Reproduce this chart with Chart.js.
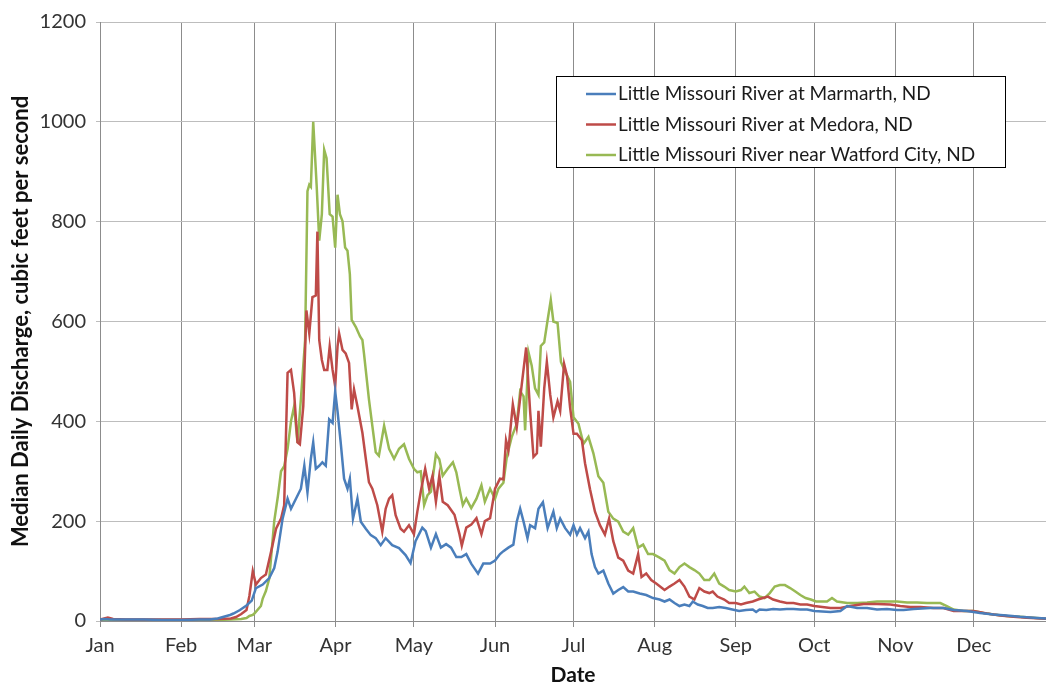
<!DOCTYPE html>
<html>
<head>
<meta charset="utf-8">
<title>Little Missouri River median daily discharge</title>
<script src="https://cdn.jsdelivr.net/npm/chart.js@4.4.1/dist/chart.umd.min.js"></script>
<style>
  html, body { margin: 0; padding: 0; background: #fff; }
  #flowChart { display: block; }
</style>
</head>
<body>
<canvas id="flowChart" width="1046" height="688"></canvas>
<script>
// month axis: tick positions are day-of-year of the 1st of each month
const monthNames = ['Jan', 'Feb', 'Mar', 'Apr', 'May', 'Jun', 'Jul', 'Aug', 'Sep', 'Oct', 'Nov', 'Dec'];
const monthStartDay = [0, 31, 59, 90, 120, 151, 181, 212, 243, 273, 304, 334];

const seriesNames = [
    'Little Missouri River at Marmarth, ND',
    'Little Missouri River at Medora, ND',
    'Little Missouri River near Watford City, ND'
];

// Marmarth (day of year, median cfs)
const marmarthDay = [0, 2, 4, 10, 17, 24, 31, 38, 42, 45,
    47, 49.7, 51, 53.5, 56, 58, 59.6, 62.2, 64.7, 66.6,
    67.9, 69.8, 71.7, 73, 74.9, 76.8, 78.1, 79.3, 80.6, 81.5,
    82.5, 83.8, 85, 86.3, 87.6, 88.9, 89.9, 90.8, 92, 93.3,
    94.6, 95.5, 96.7, 98.4, 99.7, 101.6, 103.5, 105.4, 107.3, 109.2,
    111.7, 114.3, 116.8, 118.7, 120.6, 123.2, 124.5, 126.5, 128.4, 130.3,
    132.3, 134.2, 136.2, 138.1, 140, 141.9, 144.5, 146.5, 149.1, 151,
    152.9, 154.2, 156.1, 158, 159.3, 160.6, 161.9, 163.4, 164.4, 166.3,
    167.6, 169.3, 171.1, 173.3, 174.6, 175.9, 177.8, 179.7, 181, 182.3,
    183.5, 185.4, 186.7, 187.9, 189.2, 190.5, 192.4, 194.3, 196.2, 198.1,
    200, 201.9, 203.8, 206.3, 208.8, 211.4, 213.9, 215.8, 217.7, 219.6,
    221.5, 223.4, 225.3, 226.6, 228.5, 230.4, 232.3, 234.2, 236.7, 239.2,
    241.7, 244.3, 246.9, 249.5, 250.8, 252.1, 254.7, 257.3, 259.9, 262.5,
    265.1, 267.7, 270.3, 273, 279.2, 283, 285.6, 289.4, 293.2, 297,
    300.8, 304.6, 307.2, 311, 317.4, 322.4, 326.3, 331.4, 336.4, 341.5,
    346.6, 351.7, 356.8, 361.6];
const marmarthCfs = [3, 4, 3, 3, 3, 2, 2, 3, 3, 5,
    8, 12, 15, 22, 31, 41, 66, 73, 86, 106,
    139, 205, 245, 225, 245, 265, 311, 258, 325, 358,
    305, 311, 318, 311, 404, 397, 460, 420, 358, 285,
    265, 285, 205, 245, 199, 185, 172, 166, 152, 166,
    152, 146, 132, 116, 160, 187, 180, 147, 174, 147,
    154, 147, 128, 128, 134, 115, 95, 115, 115, 121,
    134, 140, 147, 153, 199, 225, 199, 166, 192, 186,
    225, 238, 186, 219, 186, 205, 186, 173, 192, 173,
    186, 166, 179, 134, 108, 95, 101, 75, 55, 62,
    68, 59, 59, 55, 52, 46, 43, 39, 43, 36,
    30, 33, 30, 39, 33, 30, 26, 26, 28, 26,
    23, 20, 22, 23, 18, 23, 22, 24, 23, 24,
    24, 23, 23, 20, 18, 20, 30, 26, 26, 23,
    24, 22, 22, 24, 26, 26, 22, 20, 16, 13,
    11, 8.5, 6.6, 5];

// Medora
const medoraDay = [0, 3, 5, 10, 17, 24, 31, 38, 45, 50,
    52, 54, 56, 57.1, 58.4, 59.6, 61.5, 63.4, 65.4, 67.3,
    69.2, 70.4, 71.7, 73, 74.2, 75.5, 76.4, 77.7, 78.9, 80,
    81.2, 82.5, 83.1, 83.8, 84.8, 85.7, 86.9, 87.8, 88.9, 89.9,
    90.8, 91.4, 92.7, 93.9, 95.2, 96.2, 97.1, 98.4, 100.3, 101.6,
    102.8, 104.1, 106, 107.9, 109.2, 110.5, 111.7, 113, 114.9, 116.2,
    118.1, 120, 121.3, 122.6, 124.3, 125.8, 127.1, 128.4, 129.7, 131,
    132.9, 135.5, 137.4, 138.3, 140, 141.9, 143.9, 145.8, 147.1, 149.1,
    151, 152.9, 154.2, 155.2, 156.1, 157.8, 159.3, 161.2, 162.9, 164.4,
    165.7, 167, 167.6, 168.5, 169.8, 170.8, 172.1, 173.3, 174.9, 175.9,
    177.4, 178.5, 179.7, 181, 182.3, 184.2, 185.4, 187.3, 189.2, 191.1,
    193, 194.6, 196.2, 198.1, 200, 201.9, 203.8, 205.7, 207, 208.8,
    210.7, 212.6, 215.8, 217.7, 219.6, 221.5, 223.4, 225.3, 227.2, 229.1,
    231, 232.9, 234.2, 236, 238.6, 240.5, 243, 245, 246.9, 249.5,
    251.5, 253.4, 255.3, 257.3, 259.9, 262.5, 265.1, 267.7, 270.3, 273,
    279.2, 283, 286.8, 291.9, 297, 302.1, 305.9, 309.7, 313.6, 318.6,
    322.4, 326.3, 330.1, 333.9, 339, 344.1, 349.2, 354.3, 361.6];
const medoraCfs = [3, 7, 4, 3, 3, 3, 3, 4, 4, 5,
    8, 14, 22, 50, 100, 73, 86, 93, 139, 185,
    205, 232, 497, 503, 457, 358, 354, 430, 622, 576,
    649, 652, 780, 563, 523, 503, 503, 550, 503, 470,
    550, 576, 543, 536, 517, 424, 464, 430, 377, 325,
    278, 265, 232, 179, 225, 245, 252, 212, 185, 179,
    192, 174, 219, 259, 305, 265, 291, 239, 291, 239,
    232, 213, 174, 151, 187, 193, 206, 174, 200, 206,
    265, 285, 284, 362, 342, 434, 388, 473, 548, 421,
    329, 336, 421, 349, 466, 519, 453, 408, 440, 421,
    515, 492, 427, 375, 375, 362, 316, 264, 219, 192,
    173, 205, 160, 127, 121, 101, 95, 134, 88, 95,
    82, 75, 62, 69, 75, 82, 69, 49, 43, 66,
    59, 56, 59, 49, 43, 36, 36, 33, 36, 39,
    43, 46, 49, 43, 39, 36, 36, 33, 33, 30,
    26, 26, 30, 34, 34, 33, 30, 28, 28, 26,
    26, 20, 20, 20, 15, 11, 8.5, 6.6, 4.6];

// Watford City
const watfordDay = [0, 5, 10, 17, 24, 31, 38, 45, 50, 54,
    56, 57.1, 58.4, 59, 61.5, 62.2, 63.4, 64.7, 66.6, 68,
    69.2, 70.4, 71.7, 73, 74.2, 75.5, 76.8, 78.4, 79.3, 80,
    80.6, 81.5, 82.8, 83.8, 84.8, 85.7, 86.6, 87.8, 88.9, 89.9,
    90.8, 91.7, 92.7, 93.7, 94.6, 95.5, 96.2, 97.8, 99.4, 100.3,
    100.9, 102.8, 104.1, 105.4, 106.6, 108.6, 110.5, 112.4, 114.3, 116.2,
    118.1, 120, 121.3, 122.6, 123.9, 125.2, 126.5, 128.4, 129.7, 131,
    132.9, 134.9, 136.2, 137.4, 138.7, 140, 141.9, 143.9, 145.8, 147.1,
    149.1, 151, 152.3, 154.2, 155.5, 157.4, 159.3, 160.6, 161.9, 162.5,
    163.8, 165, 166.3, 167.6, 168.5, 169.8, 171.1, 172.3, 173.3, 174.9,
    176.2, 177.8, 179.7, 181, 182.9, 184.8, 186.7, 188.6, 190.5, 192.4,
    194.3, 196.2, 198.1, 200, 201.9, 203.8, 205.7, 207.6, 209.5, 211.4,
    213.9, 215.8, 217.7, 219.6, 221.5, 223.4, 225.3, 227.2, 229.1, 231,
    232.9, 234.8, 236.7, 238.6, 240.5, 243, 245, 246.3, 248.2, 250.2,
    252.1, 254, 256, 257.9, 259.9, 261.8, 263.8, 265.8, 267.7, 269.7,
    271.7, 273.7, 277.9, 279.8, 281.7, 285.6, 289.4, 293.2, 297, 300.8,
    304.6, 308.5, 312.3, 316.1, 321.2, 323.7, 326.3, 330.1, 333.9, 337.7,
    341.5, 346.6, 351.7, 356.8, 361.6];
const watfordCfs = [2, 2, 2, 2, 2, 2, 2, 2, 3, 4,
    6, 10, 12, 15, 30, 45, 60, 85, 200, 250,
    300, 310, 345, 400, 430, 357, 445, 563, 861, 874,
    870, 1000, 874, 762, 815, 944, 927, 815, 810, 748,
    854, 815, 801, 748, 742, 695, 603, 589, 570, 563,
    536, 444, 391, 338, 331, 391, 345, 325, 345, 354,
    325, 305, 298, 300, 232, 252, 259, 334, 324, 291,
    305, 318, 298, 265, 232, 245, 226, 245, 272, 239,
    265, 245, 265, 277, 329, 369, 395, 460, 450, 382,
    538, 512, 466, 453, 551, 558, 603, 643, 600, 597,
    519, 499, 479, 408, 395, 355, 369, 336, 290, 277,
    219, 205, 199, 179, 173, 186, 147, 153, 134, 134,
    127, 121, 102, 95, 108, 115, 108, 102, 95, 82,
    82, 95, 75, 69, 62, 59, 62, 69, 56, 59,
    49, 46, 56, 69, 72, 72, 66, 59, 52, 46,
    43, 39, 39, 46, 39, 36, 36, 37, 39, 39,
    39, 37, 37, 36, 36, 30, 23, 20, 20, 16,
    13, 10, 8.5, 6.6, 4.6];

const lineColors = ['#4A7EBB', '#BE4B48', '#98B954'];

const toPoints = (days, cfs) => days.map((d, i) => ({ x: d, y: cfs[i] }));

const fontFamily = 'Lato, "Open Sans", sans-serif';

// boxed legend drawn inside the plot, upper right
const insideLegend = {
    id: 'insideLegend',
    afterDraw(chart) {
        const ctx = chart.ctx;
        const area = chart.chartArea;
        const boxW = 449, boxH = 91;
        const left = area.right - 41 - boxW;
        const top = area.top + 54;
        ctx.save();
        ctx.fillStyle = '#fff';
        ctx.fillRect(left, top, boxW, boxH);
        ctx.strokeStyle = '#000';
        ctx.lineWidth = 1;
        ctx.strokeRect(left + 0.5, top + 0.5, boxW, boxH);
        ctx.font = '19px ' + fontFamily;
        ctx.textBaseline = 'middle';
        ctx.fillStyle = '#1a1a1a';
        chart.data.datasets.forEach((ds, i) => {
            const y = top + 18 + i * 30.5;
            ctx.strokeStyle = ds.borderColor;
            ctx.lineWidth = 2.5;
            ctx.beginPath();
            ctx.moveTo(left + 30, y);
            ctx.lineTo(left + 60, y);
            ctx.stroke();
            ctx.fillText(ds.label, left + 62, y);
        });
        ctx.restore();
    }
};

window.onload = function() {
    const ctx = document.getElementById('flowChart').getContext('2d');
    new Chart(ctx, {
        type: 'line',
        data: {
            datasets: [
                { label: seriesNames[0], data: toPoints(marmarthDay, marmarthCfs), borderColor: lineColors[0] },
                { label: seriesNames[1], data: toPoints(medoraDay, medoraCfs), borderColor: lineColors[1] },
                { label: seriesNames[2], data: toPoints(watfordDay, watfordCfs), borderColor: lineColors[2] }
            ]
        },
        options: {
            responsive: false,
            animation: false,
            devicePixelRatio: 1,
            layout: { padding: { top: 12, right: 0, bottom: 0, left: 0 } },
            elements: {
                line: { borderWidth: 2.5, tension: 0, fill: false },
                point: { radius: 0 }
            },
            plugins: {
                legend: { display: false },
                tooltip: { enabled: false }
            },
            scales: {
                x: {
                    type: 'linear',
                    min: 0,
                    max: 361.6,
                    afterBuildTicks: (scale) => {
                        scale.ticks = monthStartDay.map(v => ({ value: v }));
                    },
                    afterFit: (scale) => { scale.height = 67; },
                    ticks: {
                        autoSkip: false,
                        maxRotation: 0,
                        padding: 7,
                        color: '#333',
                        font: { family: fontFamily, size: 20 },
                        callback: (value, index) => monthNames[index]
                    },
                    grid: { color: '#8c8c8c', lineWidth: 1, tickLength: 6 },
                    border: { color: '#8c8c8c' },
                    title: {
                        display: true,
                        text: 'Date',
                        color: '#111',
                        font: { family: fontFamily, size: 21, weight: 'bold' },
                        padding: { top: 0, bottom: 0 }
                    }
                },
                y: {
                    min: 0,
                    max: 1200,
                    afterFit: (scale) => { scale.width = 100; },
                    ticks: {
                        stepSize: 200,
                        padding: 10,
                        color: '#333',
                        font: { family: fontFamily, size: 20 },
                        callback: (value) => String(value)
                    },
                    grid: { color: '#bdbdbd', lineWidth: 1, tickLength: 4 },
                    border: { color: '#8c8c8c' },
                    title: {
                        display: true,
                        text: 'Median Daily Discharge, cubic feet per second',
                        color: '#111',
                        font: { family: fontFamily, size: 22, weight: 'bold' },
                        padding: { top: 8, bottom: 0 }
                    }
                }
            }
        },
        plugins: [insideLegend]
    });
};
</script>
</body>
</html>
